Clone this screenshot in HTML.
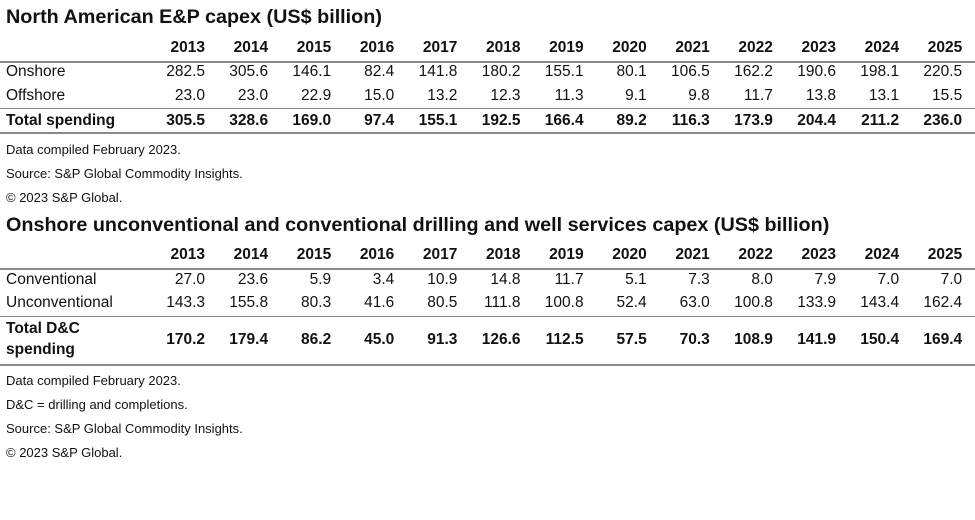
<!DOCTYPE html>
<html><head><meta charset="utf-8">
<style>
body{margin:0;width:975px;height:520px;background:#fff;font-family:"Liberation Sans",sans-serif;color:#111;position:relative;overflow:hidden}
.t{position:absolute;white-space:nowrap}
.title{font-weight:bold;font-size:19.8px;left:6px}
.num{font-size:15.5px;text-align:right;width:60px}
.lab{font-size:15.5px;left:6px}
.b{font-weight:bold}
.note{font-size:13px;left:6px}
.ln{position:absolute;left:0;width:975px;background:#8a8a8a}
</style></head><body>
<div id="root"></div>
<script>
const years=["2013","2014","2015","2016","2017","2018","2019","2020","2021","2022","2023","2024","2025"];
const onshore=["282.5","305.6","146.1","82.4","141.8","180.2","155.1","80.1","106.5","162.2","190.6","198.1","220.5"];
const offshore=["23.0","23.0","22.9","15.0","13.2","12.3","11.3","9.1","9.8","11.7","13.8","13.1","15.5"];
const totalSpending=["305.5","328.6","169.0","97.4","155.1","192.5","166.4","89.2","116.3","173.9","204.4","211.2","236.0"];
const conventional=["27.0","23.6","5.9","3.4","10.9","14.8","11.7","5.1","7.3","8.0","7.9","7.0","7.0"];
const unconventional=["143.3","155.8","80.3","41.6","80.5","111.8","100.8","52.4","63.0","100.8","133.9","143.4","162.4"];
const totalDC=["170.2","179.4","86.2","45.0","91.3","126.6","112.5","57.5","70.3","108.9","141.9","150.4","169.4"];
const root=document.getElementById('root');
function colRight(i){return 205+i*63.1;}
function txt(cls,s,x,y,name){const d=document.createElement('div');d.className='t '+cls;d.textContent=s;d.style.top=y+'px';if(x!==null)d.style.left=x+'px';


root.appendChild(d);return d;}
function line(y,h,name){const d=document.createElement('div');d.className='ln';d.style.top=y+'px';d.style.height=h+'px';


root.appendChild(d);}
function row(vals,y,bold,name){vals.forEach((v,i)=>{txt('num'+(bold?' b':''),v,colRight(i)-60,y,name+'-'+years[i]);});}
txt('title','North American E&P capex (US$ billion)',null,6,'table1-title');
row(years,39,true,'t1-year');
line(61,2,'t1-header-rule');
txt('lab','Onshore',null,63,'onshore-label');row(onshore,63,false,'onshore');
txt('lab','Offshore',null,87,'offshore-label');row(offshore,87,false,'offshore');
line(108,1,'t1-mid-rule');
txt('lab b','Total spending',null,112,'total-spending-label');row(totalSpending,112,true,'total-spending');
line(132,2,'t1-bottom-rule');
txt('note','Data compiled February 2023.',null,142,'t1-note-date');
txt('note','Source: S&P Global Commodity Insights.',null,166,'t1-note-source');
txt('note','© 2023 S&P Global.',null,190,'t1-note-copyright');
txt('title','Onshore unconventional and conventional drilling and well services capex (US$ billion)',null,214,'table2-title');
row(years,246,true,'t2-year');
line(268,2,'t2-header-rule');
txt('lab','Conventional',null,271,'conventional-label');row(conventional,271,false,'conventional');
txt('lab','Unconventional',null,294,'unconventional-label');row(unconventional,294,false,'unconventional');
line(316,1,'t2-mid-rule');
txt('lab b','Total D&C',null,320,'total-dc-label');
txt('lab b','spending',null,341,'total-dc-label-2');
row(totalDC,331,true,'total-dc');
line(364,2,'t2-bottom-rule');
txt('note','Data compiled February 2023.',null,373,'t2-note-date');
txt('note','D&C = drilling and completions.',null,397,'t2-note-dc');
txt('note','Source: S&P Global Commodity Insights.',null,421,'t2-note-source');
txt('note','© 2023 S&P Global.',null,445,'t2-note-copyright');
</script>
</body></html>
